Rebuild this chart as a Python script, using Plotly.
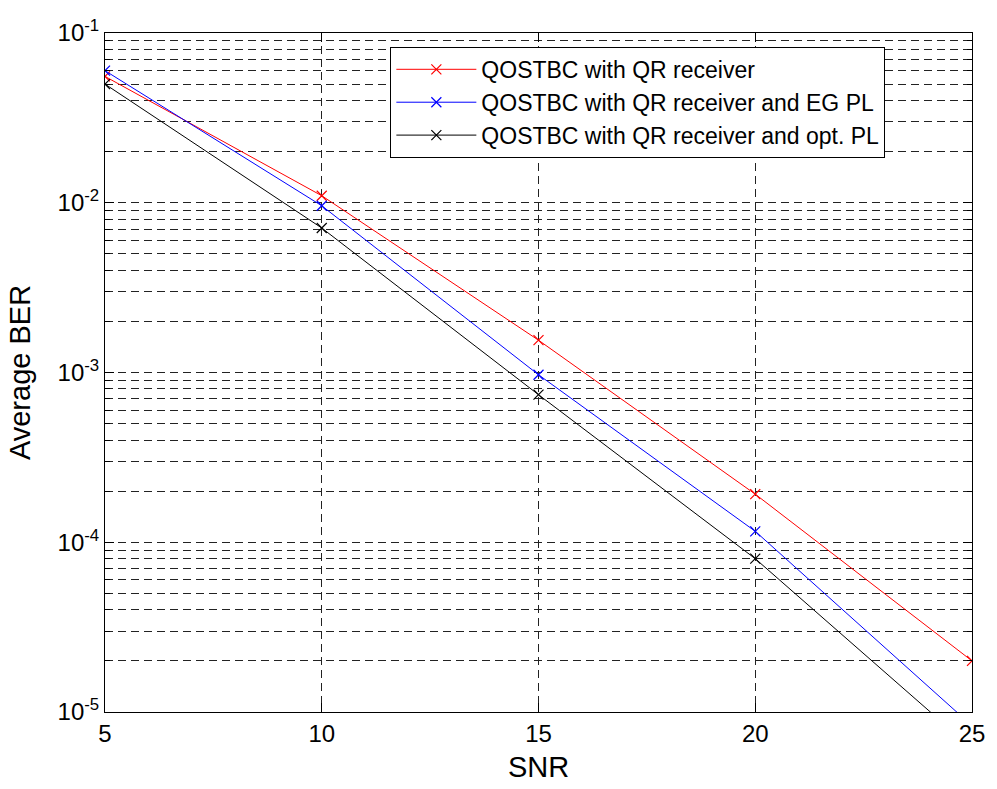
import plotly.graph_objects as go

# SNR points and average BER for each receiver variant
snr = [5, 10, 15, 20, 25]
ber_qr = [0.0555, 0.0110, 0.00155, 1.92e-4, 2.0e-5]
ber_qr_eg = [0.0600, 0.0096, 0.00097, 1.16e-4, 8.3e-6]
ber_qr_opt = [0.0500, 0.0071, 0.00074, 8.0e-5, 6.1e-6]

series_names = [
    "QOSTBC with QR receiver",
    "QOSTBC with QR receiver and EG PL",
    "QOSTBC with QR receiver and opt. PL",
]
series_colors = ["#ff0000", "#0000ff", "#000000"]

x_ticks = [5, 10, 15, 20, 25]
y_exponents = [-5, -4, -3, -2, -1]

FONT = "Arial, Liberation Sans, Helvetica, sans-serif"

fig = go.Figure()
for name, ys, col in zip(series_names, [ber_qr, ber_qr_eg, ber_qr_opt], series_colors):
    fig.add_trace(go.Scatter(
        x=snr, y=ys, name=name, mode="lines+markers",
        line=dict(color=col, width=1),
        marker=dict(symbol="x-thin", size=10, line=dict(color=col, width=1.2)),
        cliponaxis=True,
    ))

minor_y = [k * 10.0 ** e for e in y_exponents[:-1] for k in range(2, 10)]

fig.update_layout(
    width=997, height=789,
    margin=dict(l=105, r=20, t=33, b=70),
    paper_bgcolor="white", plot_bgcolor="white",
    font=dict(family=FONT, size=24, color="black"),
    showlegend=True,
    legend=dict(
        x=(392 - 105) / 872, y=(719 - 47) / 686,
        xanchor="left", yanchor="top",
        bgcolor="white", bordercolor="black", borderwidth=1,
        font=dict(family=FONT, size=23, color="black"),
        itemwidth=80, tracegroupgap=0,
    ),
)

fig.update_xaxes(
    range=[5, 25],
    tickvals=x_ticks, ticktext=[str(v) for v in x_ticks],
    ticks="inside", ticklen=9, tickcolor="black", tickwidth=1,
    showline=True, linecolor="black", linewidth=1, mirror="allticks",
    showgrid=True, gridcolor="#222222", gridwidth=1, griddash="8px,5px",
    zeroline=False,
    title=dict(text="SNR", standoff=10),
    tickfont=dict(size=24),
)

fig.update_yaxes(
    type="log", range=[-5, -1],
    tickvals=[10.0 ** e for e in y_exponents],
    ticktext=["10<sup>%d</sup>" % e for e in y_exponents],
    ticks="inside", ticklen=9, tickcolor="black", tickwidth=1,
    showline=True, linecolor="black", linewidth=1, mirror="allticks",
    showgrid=True, gridcolor="#222222", gridwidth=1, griddash="8px,5px",
    minor=dict(tickvals=minor_y, ticks="inside", ticklen=5, tickcolor="black",
               showgrid=True, gridcolor="#222222", gridwidth=1, griddash="8px,5px"),
    zeroline=False,
    title=dict(text="Average BER", standoff=18),
    tickfont=dict(size=24),
)

fig.write_html("out.html")
